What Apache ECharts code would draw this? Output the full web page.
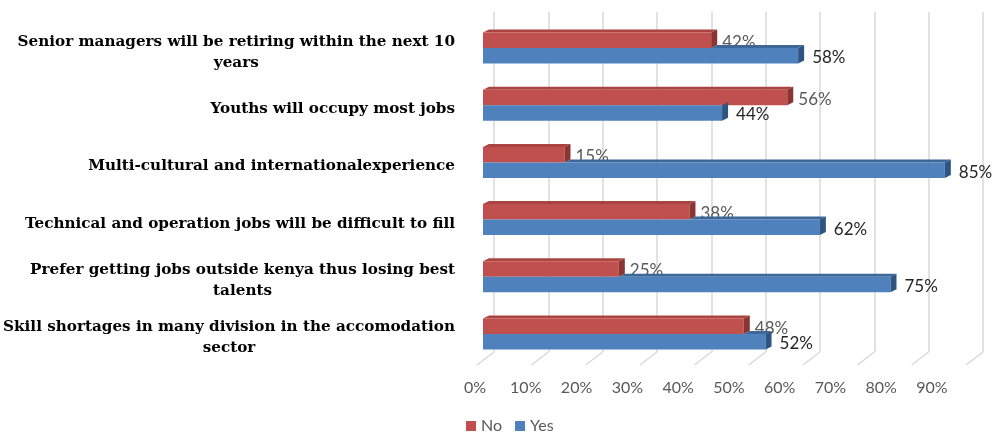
<!DOCTYPE html>
<html>
<head>
<meta charset="utf-8">
<script src="https://cdn.jsdelivr.net/npm/echarts@6/dist/echarts.min.js"></script>
<style>
  html, body { margin: 0; padding: 0; background: #fff; }
  #chart { width: 998px; height: 433px; }
</style>
</head>
<body>
<div id="chart"></div>
<script>
var categories = [
    'Senior managers will be retiring within the next 10\nyears',
    'Youths will occupy most jobs',
    'Multi-cultural and internationalexperience',
    'Technical and operation jobs will be difficult to fill',
    'Prefer getting jobs outside kenya thus losing best\ntalents',
    'Skill shortages in many division in the accomodation\nsector'
];
var noValues = [42, 56, 15, 38, 25, 48];
var yesValues = [58, 44, 85, 62, 75, 52];
var tickValues = [0, 10, 20, 30, 40, 50, 60, 70, 80, 90];

var chart = echarts.init(document.getElementById('chart'));

var labelFont = 'DejaVu Serif';
var labelSize = 15.2;
var ctx = document.createElement('canvas').getContext('2d');
ctx.font = 'bold ' + labelSize + 'px "' + labelFont + '"';

// second lines are centred under the first line, like the original
var rich = {};
categories.forEach(function (c, i) {
    var lines = c.split('\n');
    if (lines.length > 1) {
        rich['w' + i] = {
            width: ctx.measureText(lines[0]).width,
            align: 'center',
            fontFamily: labelFont,
            fontWeight: 'bold',
            fontSize: labelSize,
            lineHeight: 21,
            color: '#000'
        };
    }
});

var DX = 6, DY = 3, BAR = 0.271;

function barShapes(x0, x1, top, h, front, topColor, side, topStart) {
    var kids = [];
    var ts = topStart == null ? x0 : topStart;
    if (ts < x1) {
        kids.push({
            type: 'polygon',
            shape: { points: [[ts, top], [x1, top], [x1 + DX, top - DY], [ts + DX, top - DY]] },
            style: { fill: topColor }
        });
    }
    kids.push({
        type: 'rect',
        shape: { x: x0, y: top, width: x1 - x0, height: h },
        style: { fill: front }
    });
    kids.push({
        type: 'polygon',
        shape: { points: [[x1, top], [x1 + DX, top - DY], [x1 + DX, top + h - DY], [x1, top + h]] },
        style: { fill: side }
    });
    return kids;
}

function renderNo(params, api) {
    var idx = api.value(1);
    var v = api.value(0);
    var p0 = api.coord([0, idx]);
    var p1 = api.coord([v, idx]);
    var h = api.size([0, 1])[1] * BAR;
    var top = p0[1] - h;
    var kids = barShapes(p0[0], p1[0], top, h, '#C0504D', '#A94441', '#8A3532');
    kids.push({
        type: 'text',
        style: {
            x: p1[0] + 11, y: top + h / 2 + 2, text: v + '%',
            fill: '#595959', fontFamily: 'Lato', fontSize: 17,
            verticalAlign: 'middle', align: 'left'
        }
    });
    return { type: 'group', children: kids };
}

function renderYes(params, api) {
    var idx = api.value(1);
    var v = api.value(0);
    var p0 = api.coord([0, idx]);
    var p1 = api.coord([v, idx]);
    var redEnd = api.coord([api.value(2), idx])[0];
    var h = api.size([0, 1])[1] * BAR;
    var top = p0[1];
    var kids = barShapes(p0[0], p1[0], top, h, '#4F81BD', '#3C6798', '#2E5582', Math.max(p0[0], redEnd));
    kids.push({
        type: 'text',
        style: {
            x: p1[0] + 14, y: top + h / 2 + 2, text: v + '%',
            fill: '#262626', fontFamily: 'Lato', fontSize: 17,
            verticalAlign: 'middle', align: 'left'
        }
    });
    return { type: 'group', children: kids };
}

function renderFloor(params, api) {
    var p = api.coord([api.value(0), 0]);
    return {
        type: 'line',
        shape: { x1: p[0], y1: p[1], x2: p[0] - 17, y2: p[1] + 13 },
        style: { stroke: '#d9d9d9', lineWidth: 1.5 }
    };
}

var option = {
    backgroundColor: '#fff',
    animation: false,
    legend: {
        data: ['No', 'Yes'],
        left: 461, top: 413,
        icon: 'rect', itemWidth: 10, itemHeight: 10, itemGap: 13,
        textStyle: { color: '#595959', fontFamily: 'Lato', fontSize: 16 }
    },
    grid: [
        { left: 483, top: 19.5, width: 489, height: 343 },
        { left: 494, top: 12, width: 489, height: 340 },
        { left: 475, top: 372, width: 457, height: 1 }
    ],
    xAxis: [
        { gridIndex: 0, type: 'value', min: 0, max: 90, interval: 10, show: false },
        {
            gridIndex: 1, type: 'value', min: 0, max: 90, interval: 10,
            axisLine: { show: false }, axisTick: { show: false }, axisLabel: { show: false },
            splitLine: { show: true, lineStyle: { color: '#d9d9d9', width: 1.5 } }
        },
        {
            gridIndex: 2, type: 'value', min: 0, max: 90, interval: 10,
            axisLine: { show: false }, axisTick: { show: false }, splitLine: { show: false },
            axisLabel: { formatter: '{value}%', color: '#595959', fontFamily: 'Lato', fontSize: 16, margin: 7 }
        }
    ],
    yAxis: [
        {
            gridIndex: 0, type: 'category', data: categories, inverse: true,
            axisLine: { show: false }, axisTick: { show: false },
            axisLabel: {
                margin: 28,
                fontFamily: labelFont, fontWeight: 'bold', fontSize: labelSize,
                lineHeight: 21, color: '#000',
                padding: [8, 0, 0, 0],
                rich: rich,
                formatter: function (val, i) {
                    var lines = val.split('\n');
                    if (lines.length > 1) {
                        return lines[0] + '\n{w' + i + '|' + lines[1] + '}';
                    }
                    return val;
                }
            }
        },
        { gridIndex: 1, type: 'value', min: 0, max: 1, show: false },
        { gridIndex: 2, type: 'value', min: 0, max: 1, show: false }
    ],
    series: [
        {
            type: 'custom', name: 'floor', xAxisIndex: 1, yAxisIndex: 1,
            renderItem: renderFloor, silent: true,
            data: tickValues.map(function (t) { return [t, 0]; }),
            encode: { x: 0, y: 1 }
        },
        {
            type: 'custom', name: 'No', xAxisIndex: 0, yAxisIndex: 0,
            itemStyle: { color: '#C0504D' },
            renderItem: renderNo,
            data: noValues.map(function (v, i) { return [v, i]; }),
            encode: { x: 0, y: 1 }
        },
        {
            type: 'custom', name: 'Yes', xAxisIndex: 0, yAxisIndex: 0,
            itemStyle: { color: '#4F81BD' },
            renderItem: renderYes,
            data: yesValues.map(function (v, i) { return [v, i, noValues[i]]; }),
            encode: { x: 0, y: 1 }
        }
    ]
};

chart.setOption(option);
</script>
</body>
</html>
